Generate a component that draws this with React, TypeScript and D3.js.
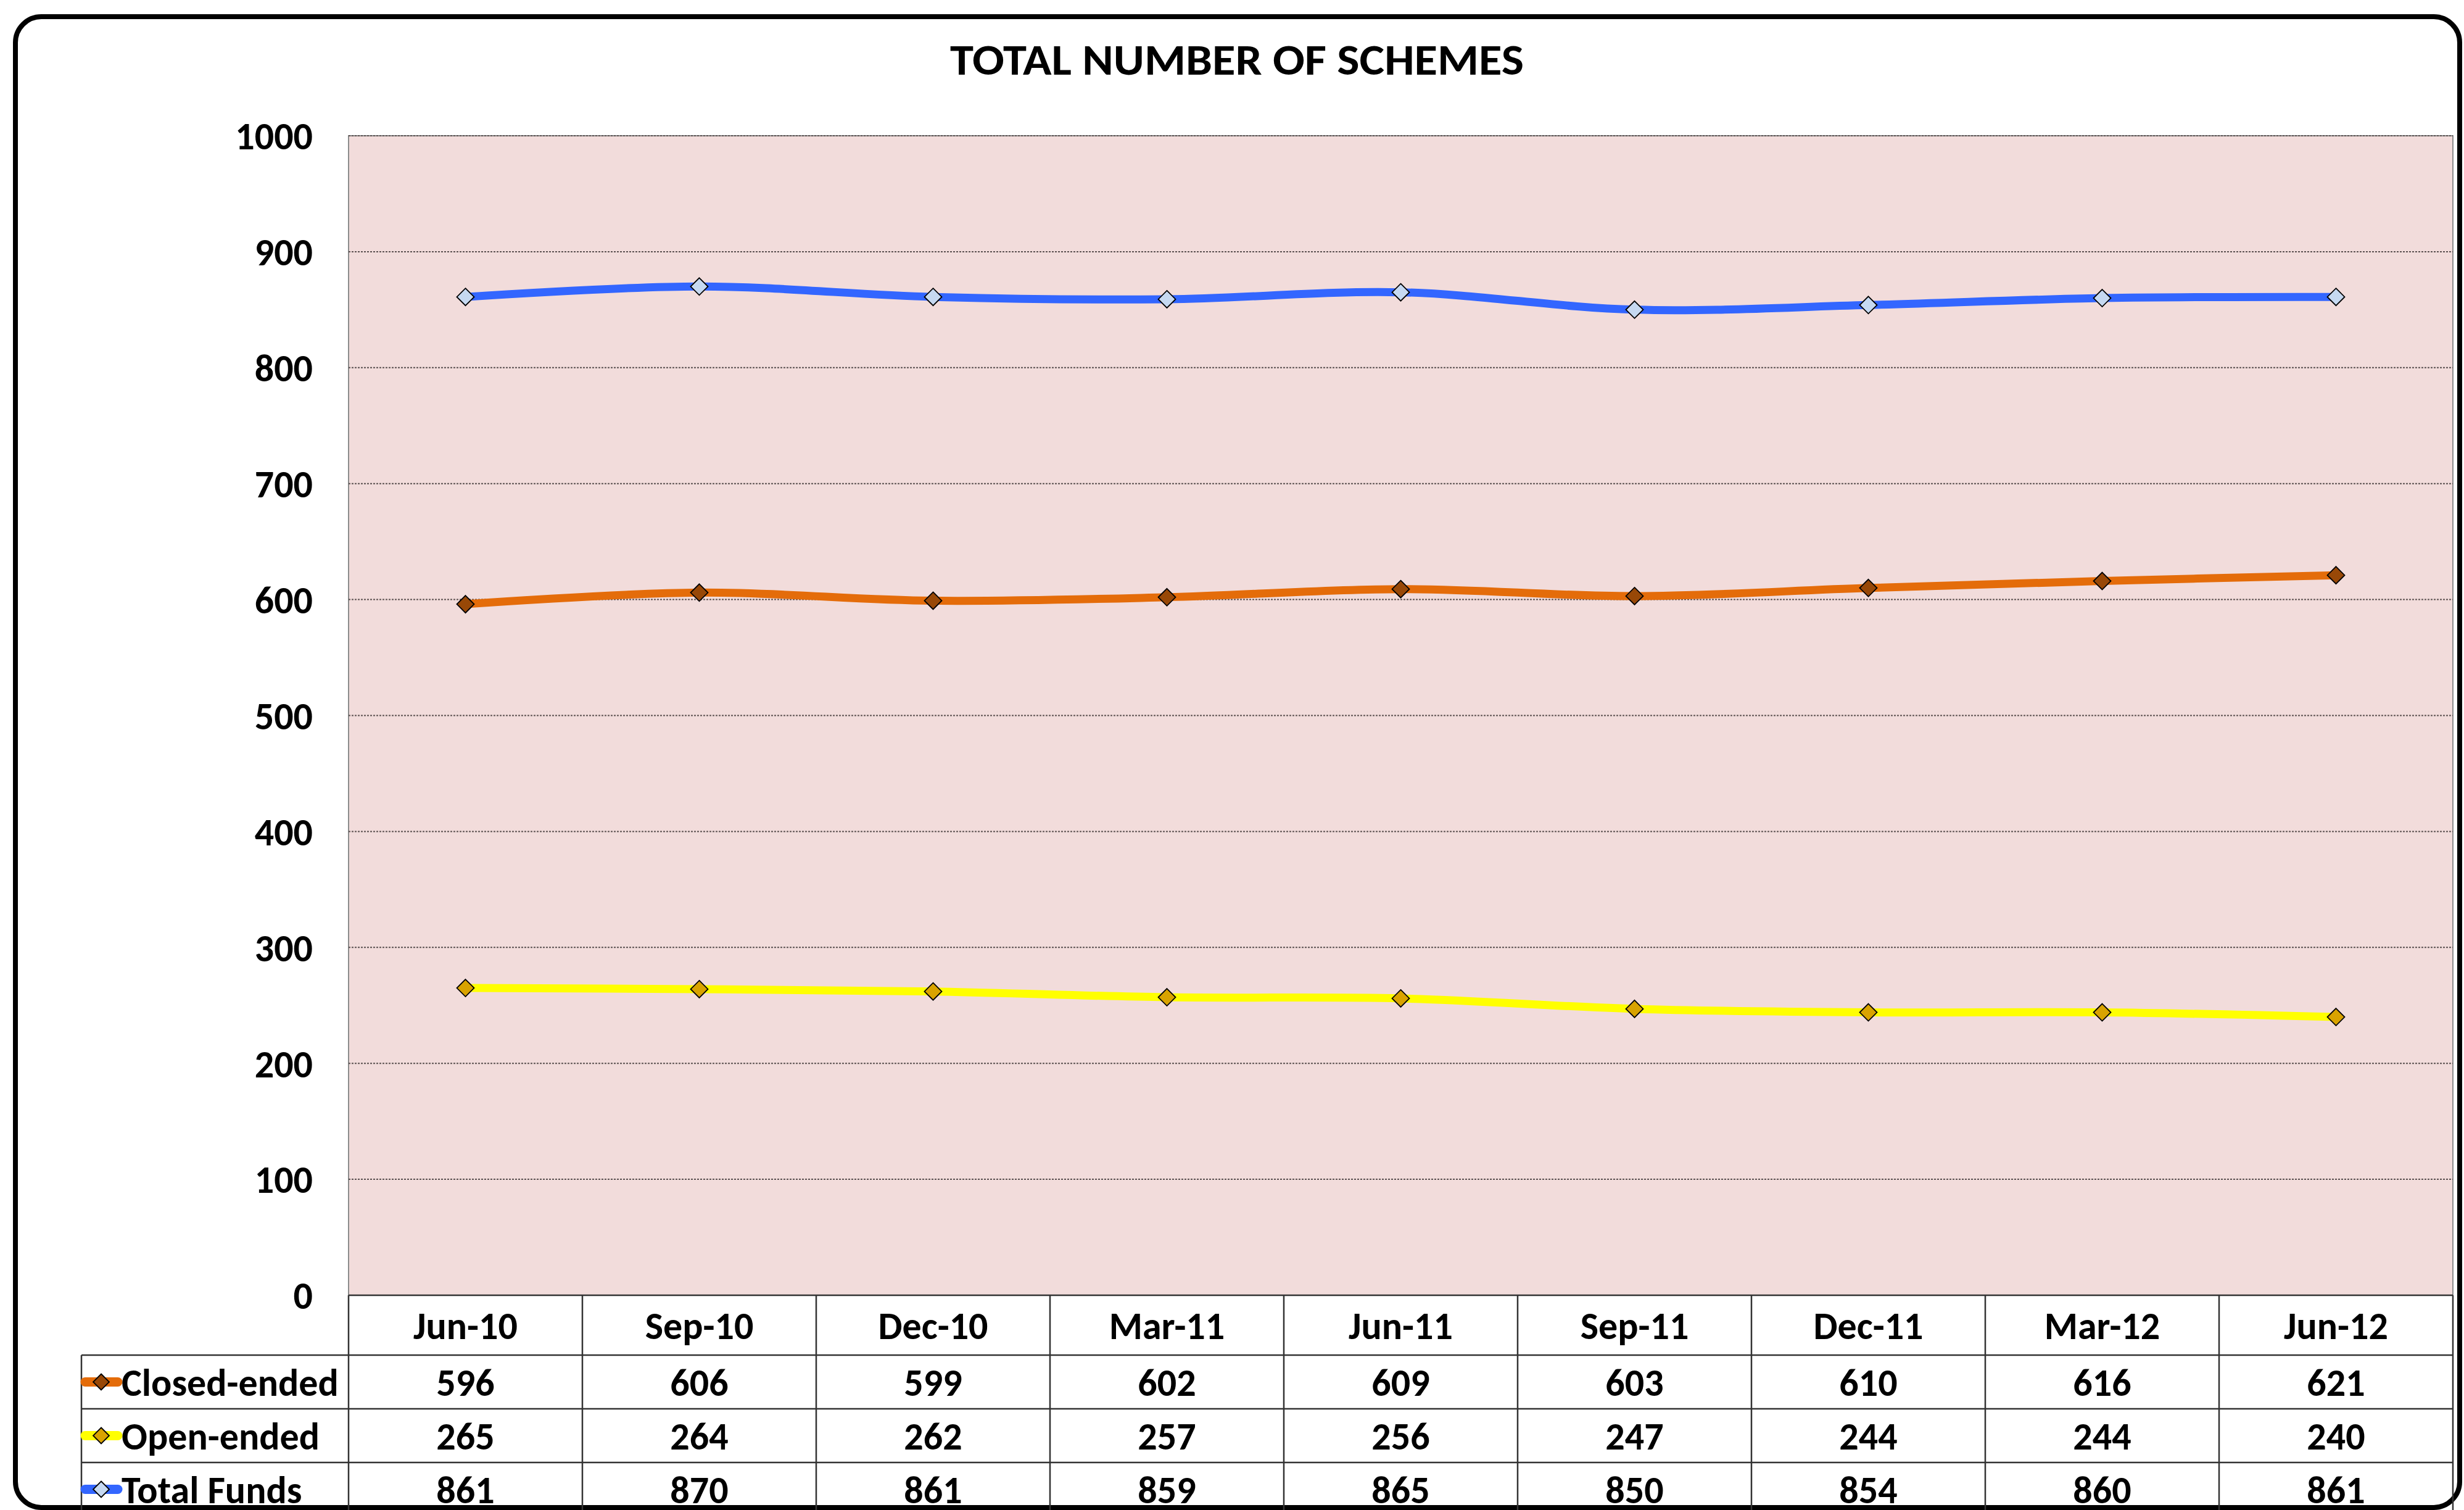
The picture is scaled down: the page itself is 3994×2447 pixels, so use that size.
import { useRef, useEffect } from 'react'
import * as d3 from 'd3'

const periods = ['Jun-10', 'Sep-10', 'Dec-10', 'Mar-11', 'Jun-11', 'Sep-11', 'Dec-11', 'Mar-12', 'Jun-12']
const closedEnded = [596, 606, 599, 602, 609, 603, 610, 616, 621]
const openEnded = [265, 264, 262, 257, 256, 247, 244, 244, 240]
const totalFunds = [861, 870, 861, 859, 865, 850, 854, 860, 861]
const yTicks = [0, 100, 200, 300, 400, 500, 600, 700, 800, 900, 1000]

const seriesNames = ['Closed-ended', 'Open-ended', 'Total Funds']
const seriesValues = [closedEnded, openEnded, totalFunds]
const lineColors = ['#E46C0A', '#FFFF00', '#3366FF']
const markerFills = ['#984807', '#D9A300', '#C6D9F1']

const W = 3994
const H = 2447
const FONT = "Carlito, Lato, 'Open Sans', sans-serif"
const FS = 62

export default function App() {
  const svgRef = useRef<SVGSVGElement>(null)

  useEffect(() => {
    const svg = d3.select(svgRef.current)
    svg.selectAll('*').remove()

    const plot = { left: 565, right: 3976, top: 220, bottom: 2099 }
    const tableLeft = 132
    const headerBottom = 2196
    const rowH = 87

    // outer frame
    svg.append('rect')
      .attr('x', 25).attr('y', 27)
      .attr('width', 3962).attr('height', 2416)
      .attr('rx', 42).attr('ry', 42)
      .attr('fill', '#fff')
      .attr('stroke', '#000')
      .attr('stroke-width', 8)

    // title
    svg.append('text')
      .attr('x', 2005).attr('y', 121)
      .attr('text-anchor', 'middle')
      .attr('font-family', FONT)
      .attr('font-weight', 700)
      .attr('font-size', 70)
      .attr('textLength', 930)
      .attr('lengthAdjust', 'spacingAndGlyphs')
      .text('TOTAL NUMBER OF SCHEMES')

    const x = d3.scaleBand<string>()
      .domain(periods)
      .range([plot.left, plot.right])
      .padding(0)

    const y = d3.scaleLinear()
      .domain([0, 1000])
      .range([plot.bottom, plot.top])

    const cx = (p: string) => x(p)! + x.bandwidth() / 2

    // plot area
    svg.append('rect')
      .attr('x', plot.left).attr('y', plot.top)
      .attr('width', plot.right - plot.left)
      .attr('height', plot.bottom - plot.top)
      .attr('fill', '#F2DCDB')
      .attr('stroke', '#8C8C8C')
      .attr('stroke-width', 2)

    // grid lines
    svg.append('g')
      .selectAll('line')
      .data(yTicks.filter(d => d > 0))
      .enter()
      .append('line')
      .attr('x1', plot.left).attr('x2', plot.right)
      .attr('y1', d => y(d)).attr('y2', d => y(d))
      .attr('stroke', '#5A5050')
      .attr('stroke-width', 2)
      .attr('stroke-dasharray', '3,2')

    // y labels
    svg.append('g')
      .selectAll('text')
      .data(yTicks)
      .enter()
      .append('text')
      .attr('x', 507)
      .attr('y', d => y(d))
      .attr('dy', '0.36em')
      .attr('text-anchor', 'end')
      .attr('font-family', FONT)
      .attr('font-weight', 700)
      .attr('font-size', FS)
      .text(d => d)

    // lines
    const line = d3.line<number>()
      .x((_, i) => cx(periods[i]))
      .y(d => y(d))
      .curve(d3.curveCardinal.tension(0))

    const diamond = (px: number, py: number, r: number) =>
      `M${px},${py - r}L${px + r},${py}L${px},${py + r}L${px - r},${py}Z`

    seriesValues.forEach((vals, s) => {
      svg.append('path')
        .datum(vals)
        .attr('fill', 'none')
        .attr('stroke', lineColors[s])
        .attr('stroke-width', 13)
        .attr('stroke-linecap', 'round')
        .attr('d', line)
    })

    seriesValues.forEach((vals, s) => {
      svg.append('g')
        .selectAll('path')
        .data(vals)
        .enter()
        .append('path')
        .attr('d', (d, i) => diamond(cx(periods[i]), y(d), 14))
        .attr('fill', markerFills[s])
        .attr('stroke', '#000')
        .attr('stroke-width', 1.8)
    })

    // data table
    const table = svg.append('g')
    const tableBottom = headerBottom + rowH * 3 + 10
    const hLines = [
      { y: plot.bottom, x1: plot.left },
      { y: headerBottom, x1: tableLeft },
      { y: headerBottom + rowH, x1: tableLeft },
      { y: headerBottom + rowH * 2, x1: tableLeft },
    ]
    hLines.forEach(l => {
      table.append('line')
        .attr('x1', l.x1).attr('x2', plot.right)
        .attr('y1', l.y).attr('y2', l.y)
        .attr('stroke', '#333').attr('stroke-width', 2.5)
    })
    table.append('line')
      .attr('x1', tableLeft).attr('x2', tableLeft)
      .attr('y1', headerBottom).attr('y2', tableBottom)
      .attr('stroke', '#333').attr('stroke-width', 2.5)
    const edges = periods.map(p => x(p)!).concat([plot.right])
    edges.forEach(ex => {
      table.append('line')
        .attr('x1', ex).attr('x2', ex)
        .attr('y1', plot.bottom).attr('y2', tableBottom)
        .attr('stroke', '#333').attr('stroke-width', 2.5)
    })

    // header labels
    table.append('g')
      .selectAll('text')
      .data(periods)
      .enter()
      .append('text')
      .attr('x', d => cx(d))
      .attr('y', (plot.bottom + headerBottom) / 2)
      .attr('dy', '0.36em')
      .attr('text-anchor', 'middle')
      .attr('font-family', FONT)
      .attr('font-weight', 700)
      .attr('font-size', FS)
      .text(d => d)

    seriesValues.forEach((vals, s) => {
      const rowMid = headerBottom + rowH * s + rowH / 2
      // legend key
      table.append('line')
        .attr('x1', tableLeft + 6).attr('x2', 191)
        .attr('y1', rowMid).attr('y2', rowMid)
        .attr('stroke', lineColors[s])
        .attr('stroke-width', 15)
        .attr('stroke-linecap', 'round')
      table.append('path')
        .attr('d', diamond(164, rowMid, 13))
        .attr('fill', markerFills[s])
        .attr('stroke', '#000')
        .attr('stroke-width', 1.8)
      table.append('text')
        .attr('x', 197)
        .attr('y', rowMid)
        .attr('dy', '0.36em')
        .attr('font-family', FONT)
        .attr('font-weight', 700)
        .attr('font-size', FS)
        .text(seriesNames[s])

      table.append('g')
        .selectAll('text')
        .data(vals)
        .enter()
        .append('text')
        .attr('x', (_, i) => cx(periods[i]))
        .attr('y', rowMid)
        .attr('dy', '0.36em')
        .attr('text-anchor', 'middle')
        .attr('font-family', FONT)
        .attr('font-weight', 700)
        .attr('font-size', FS)
        .text(d => d)
    })
  }, [])

  return (
    <svg
      ref={svgRef}
      width={W}
      height={H}
      style={{ position: 'absolute', left: 0, top: 0, display: 'block', background: '#fff' }}
    />
  )
}
